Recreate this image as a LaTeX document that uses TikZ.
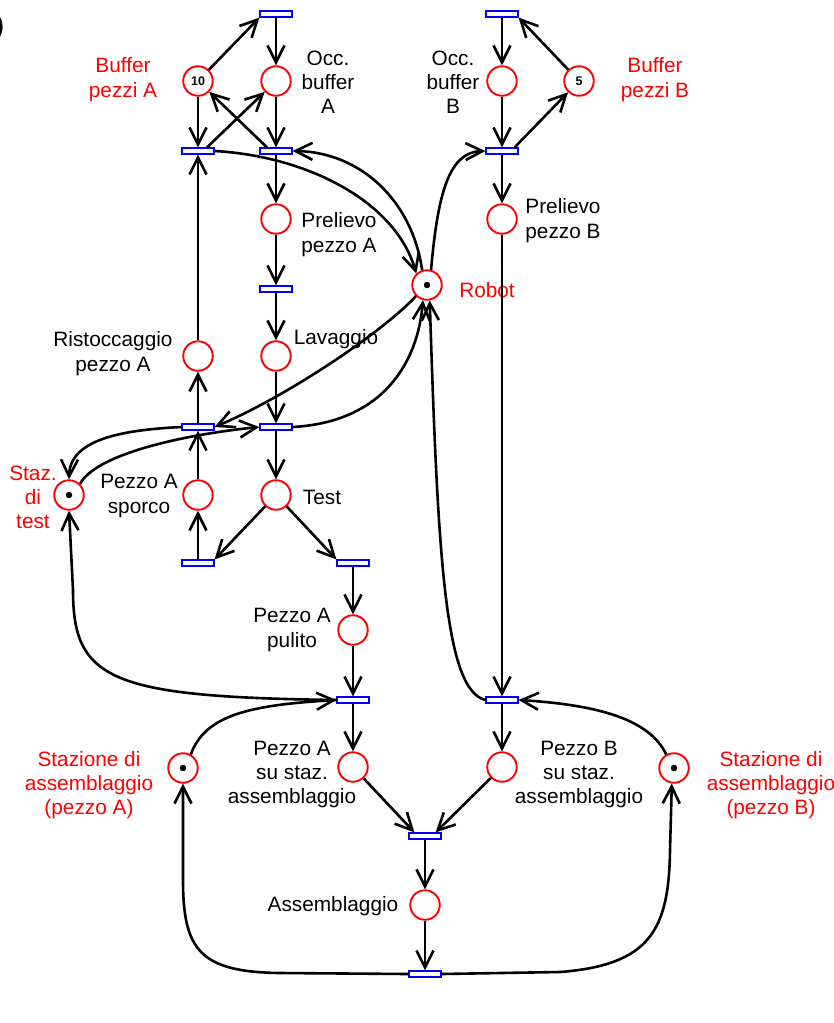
\documentclass[tikz,border=0pt]{standalone}
\usepackage{fontspec}
\setmainfont{Liberation Sans}
\usetikzlibrary{arrows.meta,calc}
\begin{document}
\begin{tikzpicture}[x=1pt,y=-1pt,
  place/.style={circle,draw=red,line width=1.9pt,minimum size=29.5pt,inner sep=0pt},
  trans/.style={rectangle,draw=blue,line width=1.7pt,minimum width=31.5pt,minimum height=5.5pt,inner sep=0pt},
  arc/.style={line width=2.6pt,-{Straight Barb[length=17pt,width=17pt]}},
  lbl/.style={font=\fontsize{20.8}{24.3}\selectfont,align=center,anchor=base,inner sep=0pt},
  rlbl/.style={lbl,text=red},
  tok/.style={circle,fill=black,inner sep=0pt,minimum size=6.5pt},
  num/.style={font=\bfseries\fontsize{12.5}{12.5}\selectfont},
]
\useasboundingbox (0,0) rectangle (834,1023);
% cut-off label at top left
\node[lbl,anchor=base east,font=\bfseries\fontsize{24}{24}\selectfont] (cut) at (4,33) {)};

% places and transitions
\node[place,num] (bufA) at (198,81) {10};
\node[place] (occA) at (276,81) {};
\node[trans] (tTopA) at (276,14) {};
\node[trans] (tA1) at (198,151) {};
\node[trans] (tA2) at (276,151) {};
\node[place] (prelA) at (276,219) {};
\node[trans] (tPrelA) at (276,289) {};
\node[place] (lav) at (276,356) {};
\node[place] (rist) at (198,356) {};
\node[trans] (tRist) at (198,427) {};
\node[trans] (tLav) at (276,427) {};
\node[place] (sporco) at (198,495) {};
\node[place] (test) at (276,495) {};
\node[place] (stest) at (69,495) {};
\node[trans] (tSporco) at (198,563) {};
\node[trans] (tPulito) at (353,563) {};
\node[place] (pulito) at (353,630) {};
\node[trans] (tCaricaA) at (353,700) {};
\node[place] (suA) at (353,767) {};
\node[place] (staA) at (183,768) {};
\node[trans] (tAss) at (425,836) {};
\node[place] (ass) at (425,905) {};
\node[trans] (tFine) at (425,974) {};
\node[trans] (tTopB) at (502,14) {};
\node[place] (occB) at (502,81) {};
\node[place,num] (bufB) at (579,81) {5};
\node[trans] (tB1) at (502,151) {};
\node[place] (prelB) at (502,219) {};
\node[place] (robot) at (427,285) {};
\node[trans] (tCaricaB) at (502,700) {};
\node[place] (suB) at (502,767) {};
\node[place] (staB) at (674,768) {};

% tokens
\node[tok] (tokRobot) at (robot) {};
\node[tok] (tokTest) at (stest) {};
\node[tok] (tokStaA) at (staA) {};
\node[tok] (tokStaB) at (staB) {};

% labels (anchor base = baseline of last line)
\node[rlbl] (lBufA) at (123,97) {Buffer\\pezzi A};
\node[lbl] (lOccA) at (328,113.6) {Occ.\\buffer\\A};
\node[lbl] (lOccB) at (453,113.6) {Occ.\\buffer\\B};
\node[rlbl] (lBufB) at (655,97) {Buffer\\pezzi B};
\node[lbl] (lPrelA) at (339,252) {Prelievo\\pezzo A};
\node[lbl] (lPrelB) at (563,238) {Prelievo\\pezzo B};
\node[rlbl] (lRobot) at (487,297) {Robot};
\node[lbl] (lRist) at (113,371) {Ristoccaggio\\pezzo A};
\node[lbl] (lLav) at (336,344) {Lavaggio};
\node[rlbl] (lStest) at (33,528.6) {Staz.\\di\\test};
\node[lbl] (lSporco) at (139,513) {Pezzo A\\sporco};
\node[lbl] (lTest) at (322,504) {Test};
\node[lbl] (lPulito) at (292,647) {Pezzo A\\pulito};
\node[lbl] (lSuA) at (292,803.6) {Pezzo A\\su staz.\\assemblaggio};
\node[rlbl] (lStaA) at (89,814.6) {Stazione di\\assemblaggio\\(pezzo A)};
\node[lbl] (lAss) at (333,911) {Assemblaggio};
\node[lbl] (lSuB) at (579,803.6) {Pezzo B\\su staz.\\assemblaggio};
\node[rlbl] (lStaB) at (771,814.6) {Stazione di\\assemblaggio\\(pezzo B)};

% straight arcs
\draw[arc] (bufA) -- (tTopA.south west);
\draw[arc] (tTopA) -- (occA);
\draw[arc] (bufA) -- (tA1);
\draw[arc] (occA) -- (tA2);
\draw[arc] ([xshift=9pt]tA1.north) -- (occA);
\draw[arc] ([xshift=-9pt]tA2.north) -- (bufA);
\draw[arc] (tA2) -- (prelA);
\draw[arc] (prelA) -- (tPrelA);
\draw[arc] (tPrelA) -- (lav);
\draw[arc] (lav) -- (tLav);
\draw[arc] (tLav) -- (test);
\draw[arc] (test) -- (tSporco.north east);
\draw[arc] (test) -- (tPulito.north west);
\draw[arc] (tSporco) -- (sporco);
\draw[arc] (sporco) -- (tRist);
\draw[arc] (tRist) -- (rist);
\draw[arc] (rist) -- (tA1);
\draw[arc] (tPulito) -- (pulito);
\draw[arc] (pulito) -- (tCaricaA);
\draw[arc] (tCaricaA) -- (suA);
\draw[arc] (suA) -- ([xshift=6pt]tAss.north west);
\draw[arc] (suB) -- ([xshift=-6pt]tAss.north east);
\draw[arc] (tAss) -- (ass);
\draw[arc] (ass) -- (tFine);
\draw[arc] (tTopB) -- (occB);
\draw[arc] (occB) -- (tB1);
\draw[arc] ([xshift=-4pt]tB1.north east) -- (bufB);
\draw[arc] (bufB) -- (tTopB.south east);
\draw[arc] (tB1) -- (prelB);
\draw[arc] (prelB) -- (tCaricaB);
\draw[arc] (tCaricaB) -- (suB);

% curved arcs
\draw[arc] (tA1.east) .. controls (305,156) and (395,200) .. (robot.133);
\draw[arc] (robot.108) .. controls (412,200) and (360,152) .. (tA2.east);
\draw[arc] (robot.75) .. controls (438,190) and (450,152) .. (tB1.west);
\draw[arc] (robot.225) .. controls (385,330) and (290,395) .. (tRist.east);
\draw[arc] (tLav.east) .. controls (385,422) and (418,360) .. (robot.255);
\draw[arc] (tCaricaB.west) .. controls (445,690) and (438,560) .. (robot.280);
\draw[arc] (tCaricaA.west) .. controls (110,697) and (73,680) .. (73,590) -- (stest.south);
\draw[arc] (stest.45) .. controls (95,455) and (180,435) .. (tLav.west);
\draw[arc] (tRist.west) .. controls (120,430) and (70,440) .. (stest.north);
\draw[arc] (tFine.west) -- (280,973) .. controls (200,972) and (183,950) .. (183,880) -- (staA.south);
\draw[arc] (tFine.east) -- (560,972) .. controls (650,965) and (669,930) .. (670,850) -- (staB.262);
\draw[arc] (staA.60) .. controls (205,715) and (250,705) .. (tCaricaA.west);
\draw[arc] (staB.120) .. controls (650,720) and (600,705) .. (tCaricaB.east);
\end{tikzpicture}
\end{document}
